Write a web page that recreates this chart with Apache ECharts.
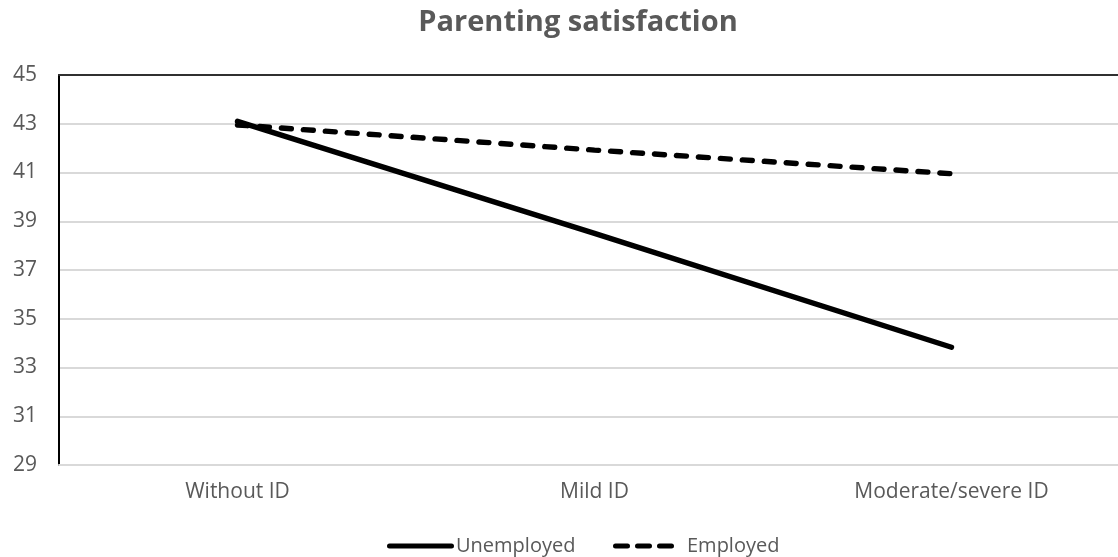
<!DOCTYPE html>
<html>
<head>
<meta charset="utf-8">
<script src="https://cdn.jsdelivr.net/npm/echarts@6/dist/echarts.min.js"></script>
<style>
  html, body { margin: 0; padding: 0; background: #fff; }
  #chart { width: 1118px; height: 557px; }
</style>
</head>
<body>
<div id="chart"></div>
<script>
// Parenting satisfaction by child's ID level and parent's employment status
const categories = ['Without ID', 'Mild ID', 'Moderate/severe ID'];
const unemployed = [43.1, 38.5, 33.83];
const employed = [42.95, 41.92, 40.95];
const yMin = 29, yMax = 45, yStep = 2;

const FONT = '"Open Sans", "Noto Sans", sans-serif';
const TEXT = '#595959';

// legend glyphs: a solid bar and three rounded dashes
const SOLID_ICON = 'path://M2.5,0 L64.5,0 A2.5,2.5 0 0 1 64.5,5 L2.5,5 A2.5,2.5 0 0 1 2.5,0 Z';
const DASH_ICON = 'path://M2.5,0 L14.5,0 A2.5,2.5 0 0 1 14.5,5 L2.5,5 A2.5,2.5 0 0 1 2.5,0 Z ' +
  'M24.5,0 L36.5,0 A2.5,2.5 0 0 1 36.5,5 L24.5,5 A2.5,2.5 0 0 1 24.5,0 Z ' +
  'M46.5,0 L58.5,0 A2.5,2.5 0 0 1 58.5,5 L46.5,5 A2.5,2.5 0 0 1 46.5,0 Z';

const legendText = { fontFamily: FONT, fontSize: 20, color: TEXT, padding: [0, 0, 0, -3] };

const chart = echarts.init(document.getElementById('chart'), null, { renderer: 'canvas' });
chart.setOption({
  animation: false,
  backgroundColor: '#fff',
  title: {
    text: 'Parenting satisfaction',
    left: 573, top: 3, textAlign: 'center',
    textStyle: { fontFamily: FONT, fontSize: 29, fontWeight: 'bold', color: TEXT }
  },
  legend: [{
    left: 382, top: 531,
    itemWidth: 67, itemHeight: 5.4,
    textStyle: legendText,
    data: [{ name: 'Unemployed', icon: SOLID_ICON }]
  }, {
    left: 608, top: 531,
    itemWidth: 61, itemHeight: 5.4,
    textStyle: Object.assign({}, legendText, { padding: [0, 0, 0, 8] }),
    data: [{ name: 'Employed', icon: DASH_ICON }]
  }],
  grid: { left: 59, width: 1071, top: 75, bottom: 92, containLabel: false, outerBoundsMode: 'none' },
  xAxis: [{
    type: 'category',
    data: categories,
    boundaryGap: true,
    axisLine: { lineStyle: { color: '#d9d9d9', width: 2 } },
    axisTick: { show: false },
    axisLabel: { fontFamily: FONT, fontSize: 21, color: TEXT, margin: 17 }
  }, {
    // dark border along the top of the plot
    type: 'category',
    data: categories,
    position: 'top',
    axisLine: { lineStyle: { color: '#303030', width: 2 } },
    axisTick: { show: false },
    axisLabel: { show: false }
  }],
  yAxis: {
    type: 'value',
    min: yMin, max: yMax, interval: yStep,
    axisLine: { show: true, lineStyle: { color: '#000', width: 2 } },
    axisTick: { show: false },
    splitLine: { lineStyle: { color: '#d9d9d9', width: 2 } },
    axisLabel: { fontFamily: FONT, fontSize: 21, color: TEXT, margin: 22 }
  },
  series: [{
    name: 'Unemployed',
    type: 'line',
    data: unemployed,
    symbol: 'none',
    color: '#000',
    lineStyle: { color: '#000', width: 5.4, cap: 'round' }
  }, {
    name: 'Employed',
    type: 'line',
    data: employed,
    symbol: 'none',
    color: '#000',
    lineStyle: { color: '#000', width: 5.4, type: [10, 12], cap: 'round' }
  }]
});
</script>
</body>
</html>
